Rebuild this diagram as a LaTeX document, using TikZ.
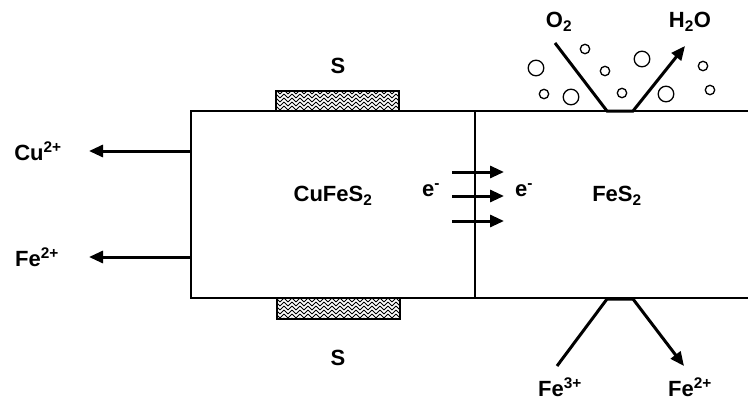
\documentclass[tikz,border=0pt]{standalone}
\usepackage{fontspec}
\setmainfont{Liberation Sans}
\usetikzlibrary{arrows.meta,patterns}
\pgfdeclarepatternformonly{weave}{\pgfqpoint{-1pt}{-1pt}}{\pgfqpoint{9pt}{9pt}}{\pgfqpoint{8pt}{8pt}}{%
  \pgfsetlinewidth{1pt}%
  \pgfpathmoveto{\pgfqpoint{0pt}{0pt}}\pgfpathlineto{\pgfqpoint{4pt}{4pt}}%
  \pgfpathmoveto{\pgfqpoint{0pt}{4pt}}\pgfpathlineto{\pgfqpoint{4pt}{8pt}}%
  \pgfpathmoveto{\pgfqpoint{4pt}{4pt}}\pgfpathlineto{\pgfqpoint{8pt}{0pt}}%
  \pgfpathmoveto{\pgfqpoint{4pt}{8pt}}\pgfpathlineto{\pgfqpoint{8pt}{4pt}}%
  \pgfusepath{stroke}}
\begin{document}
\begin{tikzpicture}[x=1pt,y=-1pt,
  lbl/.style={font=\fontsize{22}{24}\selectfont\bfseries, inner sep=0pt},
  thin/.style={line width=1.4pt},
  fatarrow/.style={line width=3pt, -{Triangle[length=14pt,width=12pt]}},
  patch/.style={draw, line width=1.4pt, pattern=weave, outer sep=0pt},
  bubble/.style={draw, line width=1.3pt}]
\useasboundingbox (0,0) rectangle (749,402);
% boxes
\node[draw, thin, minimum width=284pt, minimum height=187pt, anchor=north west, inner sep=0pt, outer sep=0pt] (cu) at (191,111) {};
\coordinate (rt) at (748,111);
\coordinate (rb) at (748,298);
\draw[thin] (cu.north east) -- (rt);
\draw[thin] (cu.south east) -- (rb);
% sulfur patches
\node[patch, minimum width=123pt, minimum height=20pt, anchor=south west, inner sep=0pt] (sTop) at (276,111) {};
\node[patch, minimum width=123pt, minimum height=21pt, anchor=north west, inner sep=0pt] (sBot) at (277,298) {};
\node[lbl] (sTopL) at (338,66) {S};
\node[lbl] (sBotL) at (338,358) {S};
% labels
\node[lbl] (cufes) at (333,196) {CuFeS\textsubscript{2}};
\node[lbl] (fes) at (617,196) {FeS\textsubscript{2}};
\node[lbl] (e1) at (431,190) {e\textsuperscript{-}};
\node[lbl] (e2) at (524,190) {e\textsuperscript{-}};
\node[lbl] (cuion) at (38,151) {Cu\textsuperscript{2+}};
\node[lbl] (feion) at (37,257) {Fe\textsuperscript{2+}};
\node[lbl] (o2) at (559,22) {O\textsubscript{2}};
\node[lbl] (h2o) at (690,22) {H\textsubscript{2}O};
\node[lbl] (fe3) at (560,387) {Fe\textsuperscript{3+}};
\node[lbl] (fe2) at (690,387) {Fe\textsuperscript{2+}};
% ion arrows
\coordinate (cuA) at (191,151);
\coordinate (feA) at (191,257);
\draw[fatarrow] (cuA) -- (89,151);
\draw[fatarrow] (feA) -- (89,257);
% electron arrows
\foreach \yy in {172,196,221}{
  \draw[fatarrow] (452,\yy) -- (504,\yy);
}
% top reaction
\coordinate (t0) at (555,43);
\coordinate (t1) at (607,111);
\coordinate (t2) at (633,111);
\coordinate (t3) at (685,46);
\draw[fatarrow, line join=miter] (t0) -- (t1) -- (t2) -- (t3);
% bottom reaction
\coordinate (b0) at (557,366);
\coordinate (b1) at (607,299);
\coordinate (b2) at (633,299);
\coordinate (b3) at (684,366);
\draw[fatarrow, line join=miter] (b0) -- (b1) -- (b2) -- (b3);
% bubbles
\foreach \xx/\yy in {536/68,571/97,642/59,666/94}{
  \draw[bubble] (\xx,\yy) circle (7.8pt);
}
\foreach \xx/\yy in {544/94,585/49,605/71,622/93,703/66,710/90}{
  \draw[bubble] (\xx,\yy) circle (4.7pt);
}
\end{tikzpicture}
\end{document}
